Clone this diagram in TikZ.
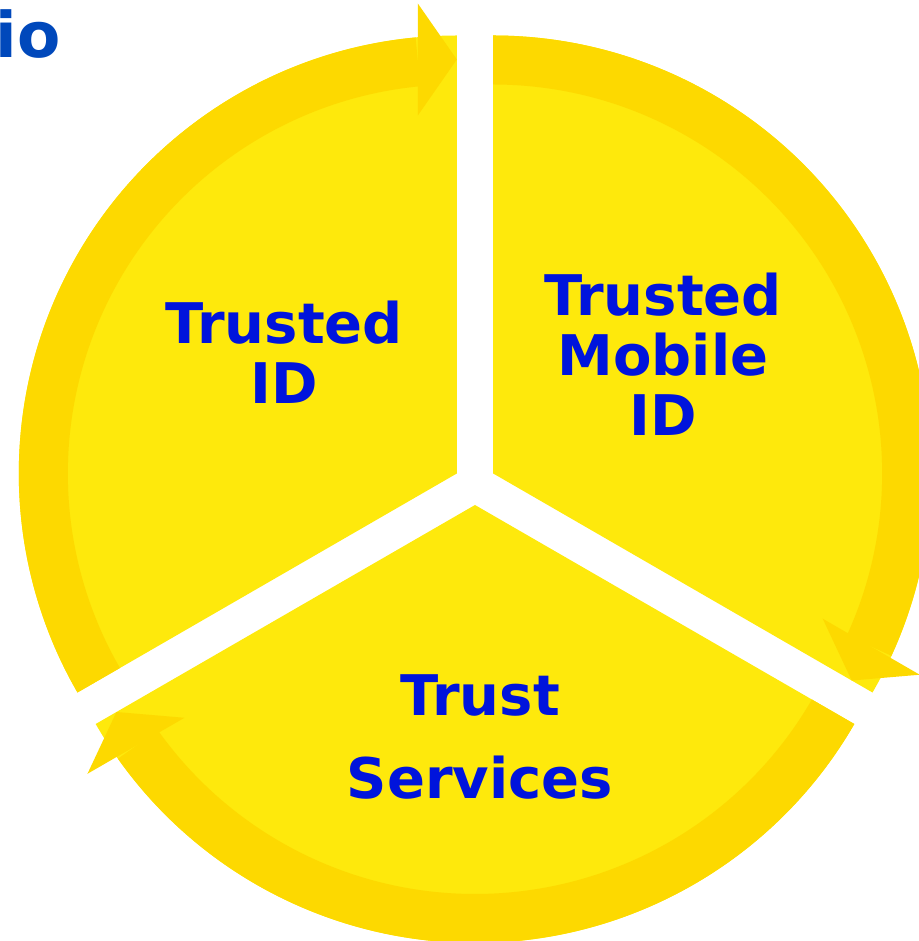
\documentclass[tikz,border=0pt]{standalone}
\usepackage{fontspec}
\usepackage{tikz}
\newfontfamily\labelfont{DejaVu Sans}
\definecolor{sectoryellow}{RGB}{254,233,12}
\definecolor{bandgold}{RGB}{253,217,0}
\definecolor{labelblue}{RGB}{0,20,220}
\definecolor{titleblue}{RGB}{0,72,187}

\begin{document}
\begin{tikzpicture}[x=1pt,y=1pt]
            \tikzstyle{sector}=[fill=sectoryellow]
            \tikzstyle{band}=[fill=bandgold]
            \tikzstyle{label}=[text=labelblue,align=center,inner sep=0pt,anchor=base,font=\labelfont\bfseries\fontsize{56}{60}\selectfont]
            \useasboundingbox (-475,-457) rectangle (443,484);

            % three sectors, each with its outer arrow
            \foreach \rot in {0,-120,-240} {
              \begin{scope}[rotate=\rot, shift={(150:21)}]
                \fill[sector] (0,0) -- (90:438) arc[start angle=90, end angle=210, radius=438] -- cycle;
                \fill[band] (210:438) arc[start angle=210, end angle=95.4, radius=438]
                  -- (95.4:389) arc[start angle=95.4, end angle=210, radius=389] -- cycle;
                \fill[band] (-39,358) -- (0,414) -- (-39,470) -- cycle;
              \end{scope}
            }

            \node[label] (L-id) at (-191,80) {Trusted\\ID};
            \node[label] (L-mobile) at (188,48) {Trusted\\Mobile\\ID};
            \node[label,font=\labelfont\bfseries\fontsize{56}{83}\selectfont] (L-services) at (5,-314) {Trust\\Services};

            \node[text=titleblue,inner sep=0pt,anchor=base east,font=\labelfont\bfseries\fontsize{63}{70}\selectfont] (title) at (-414.5,426) {io};
        \end{tikzpicture}
\end{document}
